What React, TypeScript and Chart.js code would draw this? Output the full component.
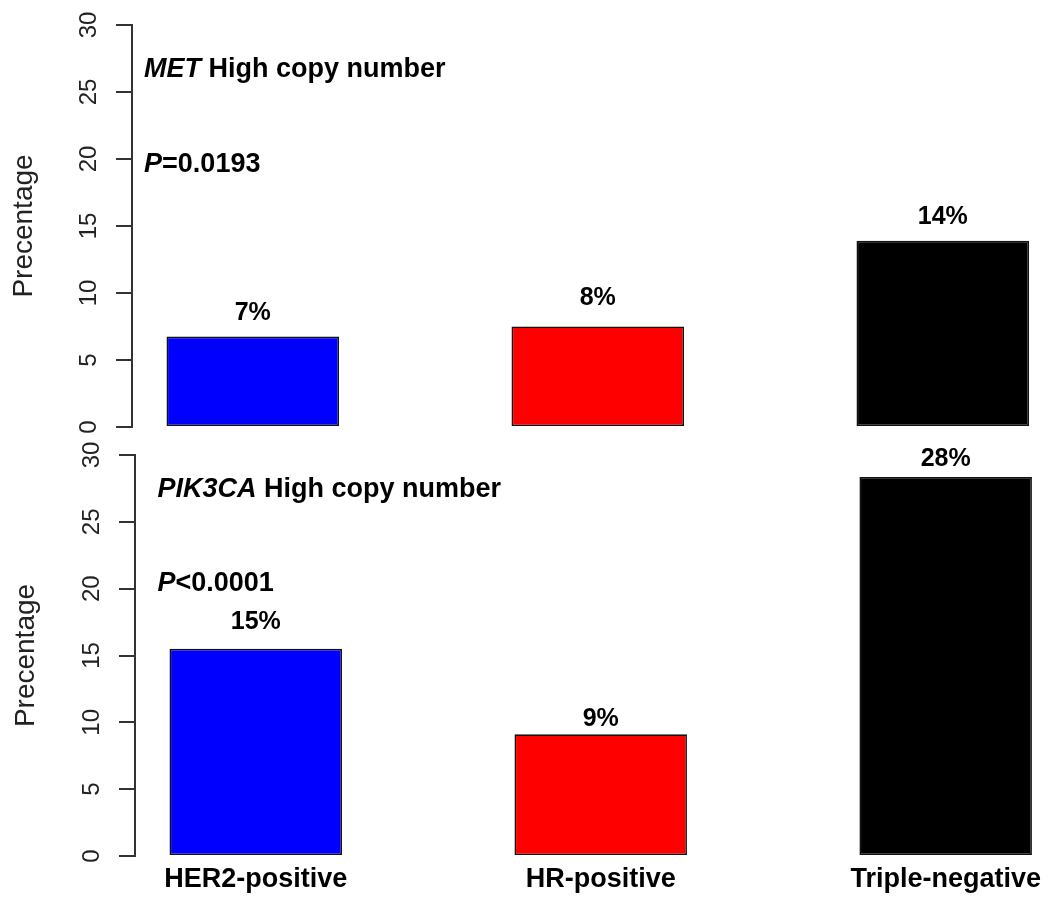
import React, { useEffect, useRef } from 'react';
import { Chart, registerables } from 'chart.js';

Chart.register(...registerables);

const CATEGORIES = ['HER2-positive', 'HR-positive', 'Triple-negative'];
const BAR_POSITIONS = [1.5, 3.5, 5.5];
const BAR_COLORS = ['#0000FF', '#FF0000', '#000000'];

const MET_VALUES = [6.75, 7.5, 13.9];
const MET_LABELS = ['7%', '8%', '14%'];
const MET_LABEL_Y = [8.5, 9.63, 15.67];

const PIK3CA_VALUES = [15.5, 9.1, 28.35];
const PIK3CA_LABELS = ['15%', '9%', '28%'];
const PIK3CA_LABEL_Y = [17.5, 10.25, 29.66];

const Y_MIN = 0;
const Y_MAX = 30;
const Y_STEP = 5;
const X_MIN = 0.8;

const FONT = '"Liberation Sans", Arial, Helvetica, sans-serif';

type PanelSpec = {
  values: number[];
  labels: string[];
  labelY: number[];
  gene: string;
  pItalic: string;
  pRest: string;
  annX: number;
  geneY: number;
  pY: number;
  axisWidth: number;
  padTop: number;
  padBottom: number;
  xMax: number;
  showX: boolean;
  titlePad: number;
};

const TOP_PANEL: PanelSpec = {
  values: MET_VALUES,
  labels: MET_LABELS,
  labelY: MET_LABEL_Y,
  gene: 'MET',
  pItalic: 'P',
  pRest: '=0.0193',
  annX: 0.87,
  geneY: 26.68,
  pY: 19.55,
  axisWidth: 132,
  padTop: 25,
  padBottom: 470,
  xMax: 6.058,
  showX: false,
  titlePad: 7,
};

const BOTTOM_PANEL: PanelSpec = {
  values: PIK3CA_VALUES,
  labels: PIK3CA_LABELS,
  labelY: PIK3CA_LABEL_Y,
  gene: 'PIK3CA',
  pItalic: 'P',
  pRest: '<0.0001',
  annX: 0.93,
  geneY: 27.45,
  pY: 20.42,
  axisWidth: 135,
  padTop: 455,
  padBottom: 0,
  xMax: 6.041,
  showX: true,
  titlePad: 9,
};

function makeConfig(p: PanelSpec): any {
  const textPlugin = {
    id: 'panelText',
    afterDatasetsDraw(chart: any) {
      const ctx = chart.ctx;
      const xs = chart.scales.x;
      const ys = chart.scales.y;
      ctx.save();
      ctx.fillStyle = '#000';
      ctx.textBaseline = 'middle';
      ctx.textAlign = 'center';
      ctx.font = `bold 25px ${FONT}`;
      p.labels.forEach((lab, i) => {
        ctx.fillText(lab, xs.getPixelForValue(BAR_POSITIONS[i]), ys.getPixelForValue(p.labelY[i]));
      });
      ctx.textAlign = 'left';
      const ax = xs.getPixelForValue(p.annX);
      const drawMixed = (ital: string, rest: string, yv: number) => {
        const y = ys.getPixelForValue(yv);
        ctx.font = `italic bold 27px ${FONT}`;
        ctx.fillText(ital, ax, y);
        const w = ctx.measureText(ital).width;
        ctx.font = `bold 27px ${FONT}`;
        ctx.fillText(rest, ax + w, y);
      };
      drawMixed(p.gene, ' High copy number', p.geneY);
      drawMixed(p.pItalic, p.pRest, p.pY);
      ctx.restore();
    },
  };

  return {
    type: 'bar',
    data: {
      datasets: [
        {
          data: p.values.map((v, i) => ({ x: BAR_POSITIONS[i], y: v })),
          backgroundColor: BAR_COLORS,
          borderColor: '#111',
          borderWidth: 1.6,
          borderSkipped: false,
          barPercentage: 0.5,
          categoryPercentage: 1,
        },
      ],
    },
    options: {
      responsive: false,
      animation: false,
      devicePixelRatio: 1,
      layout: { padding: { top: p.padTop, bottom: p.padBottom, left: 0, right: 10 } },
      plugins: { legend: { display: false }, tooltip: { enabled: false } },
      scales: {
        x: {
          type: 'linear',
          min: X_MIN,
          max: p.xMax,
          offset: false,
          display: p.showX,
          grid: { display: false, drawTicks: false },
          border: { display: false },
          afterBuildTicks: (s: any) => {
            s.ticks = BAR_POSITIONS.map((v) => ({ value: v }));
          },
          afterFit: (s: any) => {
            s.height = p.showX ? 41 : 0;
          },
          ticks: {
            autoSkip: false,
            minRotation: 0,
            maxRotation: 0,
            padding: 7,
            color: '#000',
            font: { family: FONT, size: 27, weight: 'bold' },
            callback: (_v: any, i: number) => CATEGORIES[i],
          },
        },
        y: {
          type: 'linear',
          min: Y_MIN,
          max: Y_MAX,
          afterFit: (s: any) => {
            s.width = p.axisWidth;
          },
          grid: {
            display: true,
            drawOnChartArea: false,
            drawTicks: true,
            tickLength: 16,
            color: '#333',
            lineWidth: 2,
          },
          border: { display: true, color: '#333', width: 2 },
          ticks: {
            stepSize: Y_STEP,
            autoSkip: false,
            minRotation: 90,
            maxRotation: 90,
            crossAlign: 'center',
            padding: 13,
            color: '#222',
            font: { family: FONT, size: 24, lineHeight: 0.8 },
          },
          title: {
            display: true,
            text: 'Precentage',
            color: '#222',
            font: { family: FONT, size: 28 },
            padding: { top: p.titlePad, bottom: 0 },
          },
        },
      },
    },
    plugins: [textPlugin],
  };
}

function Panel({ spec }: { spec: PanelSpec }) {
  const ref = useRef<HTMLCanvasElement | null>(null);
  useEffect(() => {
    if (!ref.current) return;
    const chart = new Chart(ref.current, makeConfig(spec));
    return () => chart.destroy();
  }, [spec]);
  return (
    <canvas
      ref={ref}
      width={1049}
      height={897}
      style={{ position: 'absolute', left: 0, top: 0, width: 1049, height: 897 }}
    />
  );
}

export default function App() {
  return (
    <div style={{ position: 'absolute', left: 0, top: 0, width: 1049, height: 897, background: '#fff' }}>
      <Panel spec={TOP_PANEL} />
      <Panel spec={BOTTOM_PANEL} />
    </div>
  );
}
